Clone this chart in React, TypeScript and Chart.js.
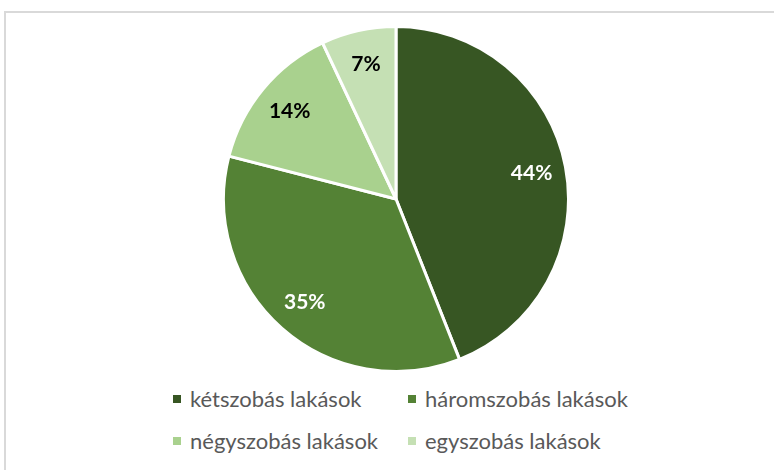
import React, { useEffect, useRef } from "react";
import { Chart, registerables } from "chart.js";

Chart.register(...registerables);

const categories = [
  "kétszobás lakások",
  "háromszobás lakások",
  "négyszobás lakások",
  "egyszobás lakások",
];
const shares = [44, 35, 14, 7];
const valueLabels = ["44%", "35%", "14%", "7%"];
const sliceColors = ["#375623", "#548235", "#A9D18E", "#C5E0B4"];
const labelColors = ["#FFFFFF", "#FFFFFF", "#000000", "#000000"];

const sliceLabelPlugin = {
  id: "sliceLabels",
  afterDatasetsDraw(chart: any) {
    const ctx = chart.ctx;
    const meta = chart.getDatasetMeta(0);
    ctx.save();
    ctx.font = "bold 21px Lato";
    ctx.textAlign = "center";
    ctx.textBaseline = "middle";
    meta.data.forEach((arc: any, i: number) => {
      const p = arc.getProps(["x", "y", "startAngle", "endAngle", "outerRadius"], true);
      const mid = (p.startAngle + p.endAngle) / 2;
      const r = p.outerRadius * 0.8;
      ctx.fillStyle = labelColors[i];
      ctx.fillText(valueLabels[i], p.x + Math.cos(mid) * r, p.y + Math.sin(mid) * r);
    });
    ctx.restore();
  },
};

export default function App() {
  const canvasRef = useRef<HTMLCanvasElement | null>(null);

  useEffect(() => {
    if (!canvasRef.current) return;
    const chart = new Chart(canvasRef.current, {
      type: "pie",
      data: {
        labels: categories,
        datasets: [
          {
            data: shares,
            backgroundColor: sliceColors,
            borderColor: "#FFFFFF",
            borderWidth: 3,
          },
        ],
      },
      options: {
        animation: false,
        responsive: false,
        maintainAspectRatio: false,
        layout: { padding: 0 },
        plugins: {
          legend: { display: false },
          tooltip: { enabled: false },
        },
      },
      plugins: [sliceLabelPlugin],
    });
    return () => chart.destroy();
  }, []);

  return (
    <div
      style={{
        position: "fixed",
        left: 0,
        top: 0,
        width: 774,
        height: 470,
        background: "#FFFFFF",
        overflow: "hidden",
        fontFamily: "Lato, 'Open Sans', sans-serif",
      }}
    >
      <div
        style={{
          position: "absolute",
          left: 4,
          top: 11,
          width: 820,
          height: 520,
          borderLeft: "2px solid #D9D9D9",
          borderTop: "2px solid #D9D9D9",
          boxSizing: "border-box",
        }}
      />
      <canvas
        ref={canvasRef}
        width={348}
        height={348}
        style={{ position: "absolute", left: 222, top: 25, width: 348, height: 348 }}
      />
      <div
        style={{
          position: "absolute",
          left: 173,
          top: 378,
          display: "grid",
          gridTemplateColumns: "235px 235px",
          gridAutoRows: "42px",
        }}
      >
        {categories.map((c, i) => (
          <div key={c} style={{ display: "flex", alignItems: "center", whiteSpace: "nowrap" }}>
            <span
              style={{
                display: "inline-block",
                width: 8,
                height: 8,
                background: sliceColors[i],
                marginRight: 9,
              }}
            />
            <span style={{ fontSize: 22, color: "#595959", lineHeight: "42px" }}>{c}</span>
          </div>
        ))}
      </div>
    </div>
  );
}
